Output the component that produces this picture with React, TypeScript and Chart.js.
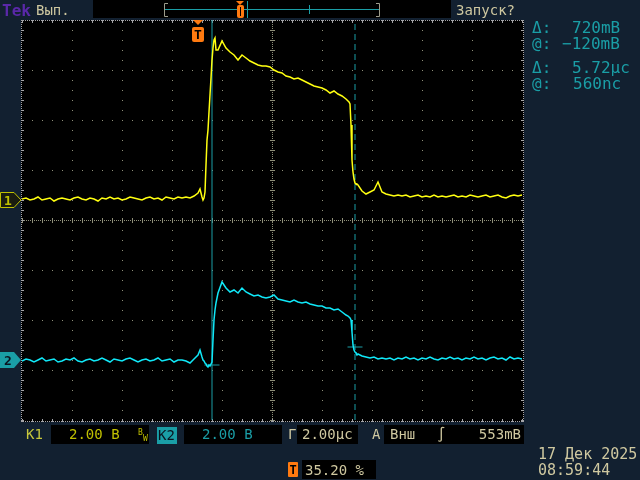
import React, { useEffect, useRef } from "react";
import { Chart, registerables } from "chart.js";

Chart.register(...registerables);

// ---- time base (µs, 0 = trigger point) ----
const timeUs = [
  -7.04, -6.88, -6.72, -6.56, -6.40, -6.24, -6.08, -5.92, -5.76, -5.60,
  -5.44, -5.28, -5.12, -4.96, -4.80, -4.64, -4.48, -4.32, -4.16, -4.00,
  -3.84, -3.68, -3.52, -3.36, -3.20, -3.04, -2.88, -2.72, -2.56, -2.40,
  -2.24, -2.08, -1.92, -1.76, -1.60, -1.44, -1.28, -1.12, -0.96, -0.80,
  -0.64, -0.48, -0.32, -0.16, 0.00,
  0.08, 0.16, 0.20, 0.24, 0.28, 0.32, 0.36, 0.40, 0.44, 0.48, 0.52, 0.56, 0.60, 0.64, 0.68, 0.72,
  0.80, 0.96, 1.12, 1.28, 1.44, 1.60, 1.76, 1.92, 2.08, 2.24,
  2.40, 2.56, 2.72, 2.88, 3.04, 3.20, 3.36, 3.52, 3.68, 3.84,
  4.00, 4.16, 4.32, 4.48, 4.64, 4.80, 4.96, 5.12, 5.28, 5.44,
  5.60, 5.76, 5.92,
  6.00, 6.04, 6.08, 6.12, 6.16, 6.20, 6.24, 6.28, 6.32, 6.36, 6.40,
  6.56, 6.72, 6.88, 7.04, 7.20, 7.36, 7.52, 7.68, 7.84, 8.00,
  8.16, 8.32, 8.48, 8.64, 8.80, 8.96, 9.12, 9.28, 9.44, 9.60,
  9.76, 9.92, 10.08, 10.24, 10.40, 10.56, 10.72, 10.88, 11.04, 11.20,
  11.36, 11.52, 11.68, 11.84, 12.00, 12.16, 12.32, 12.48, 12.64, 12.80,
  12.96,
];

// ---- channel 1 (yellow), volts ----
const ch1Volts = [
  0.04, 0.08, 0, 0.04, 0.12, 0, 0.04, 0.08, -0.04, 0.04,
  0.08, 0.04, 0, 0.08, 0.12, 0.04, 0, 0.08, 0.04, -0.04,
  0.08, 0.04, 0.12, 0.04, 0.08, 0, 0.04, 0.12, 0.08, 0.04,
  0, 0.08, 0.12, 0.04, 0.08, 0, 0.12, 0.08, 0.04, 0.12,
  0.08, 0.12, 0.08, 0.16, 0.28,
  0.44, 0.12, 0, 0.08, 0.32, 1.4, 2.4, 2.8, 3.52, 4.2, 4.88, 5.6, 6.08, 6.4, 6.48, 6.0,
  6.0, 6.36, 6.08, 5.92, 5.8, 5.6, 5.8, 5.68, 5.56, 5.48,
  5.4, 5.36, 5.36, 5.32, 5.2, 5.12, 5.08, 4.96, 4.92, 4.84,
  4.88, 4.8, 4.72, 4.64, 4.56, 4.52, 4.48, 4.4, 4.28, 4.36,
  4.24, 4.16, 4.04,
  3.96, 3.92, 3.84, 3.0, 1.6, 1.12, 0.84, 0.68, 0.64, 0.64, 0.6,
  0.36, 0.24, 0.32, 0.4, 0.72, 0.32, 0.24, 0.2, 0.16, 0.2,
  0.16, 0.2, 0.12, 0.16, 0.2, 0.12, 0.16, 0.12, 0.2, 0.12,
  0.16, 0.12, 0.16, 0.2, 0.12, 0.16, 0.12, 0.2, 0.16, 0.12,
  0.16, 0.2, 0.12, 0.16, 0.2, 0.12, 0.08, 0.16, 0.2, 0.16,
  0.2,
];

// ---- channel 2 (cyan), volts ----
const ch2Volts = [
  -0.04, 0.04, 0, -0.08, 0, 0.08, -0.04, 0, 0.04, -0.08,
  -0.04, 0.04, 0, 0.08, -0.04, -0.08, 0, 0.04, -0.04, 0,
  0.08, 0, -0.08, 0.04, 0, -0.04, 0.04, 0.08, 0, -0.08,
  0, 0.04, -0.04, 0, 0.08, -0.04, 0, 0.04, -0.08, 0,
  0, -0.04, -0.12, 0.04, 0.2,
  0.4, 0.12, 0, -0.04, -0.12, -0.16, -0.24, -0.28, -0.2, -0.24, -0.16, -0.08, 0.8, 1.6, 2.0, 2.28,
  2.68, 3.12, 2.88, 2.72, 2.8, 2.68, 2.88, 2.72, 2.64, 2.56,
  2.6, 2.52, 2.48, 2.52, 2.6, 2.44, 2.4, 2.36, 2.32, 2.4,
  2.32, 2.28, 2.32, 2.24, 2.2, 2.16, 2.16, 2.08, 2.08, 2.0,
  2.04, 1.92, 1.8,
  1.76, 1.72, 1.68, 1.6, 1.12, 0.6, 0.4, 0.32, 0.28, 0.2, 0.24,
  0.16, 0.12, 0.08, 0.12, 0.04, 0.08, 0.04, 0.08, 0, 0.08,
  0.04, 0.12, 0.04, 0.08, 0, 0.08, 0.04, 0.12, 0.04, 0,
  0.08, 0.04, 0.12, 0.04, 0.08, 0, 0.08, 0.04, 0.12, 0.04,
  0.08, 0, 0.08, 0.12, 0.04, 0.08, 0, 0.12, 0.04, 0.08,
  0.04,
];

// ---- cursors ----
const cursorTimesUs = [0.56, 6.28];
const ch2CursorLevelsV = [-0.2, 0.52];
const cursorMarkHalfUs = 0.3;

// ---- axis ranges (2 µs/div, 2 V/div) ----
const X_MIN = -7.04;
const X_MAX = 12.96;
const CH1_MIN = -8.8;
const CH1_MAX = 7.2;
const CH2_MIN = -2.4;
const CH2_MAX = 13.6;

// ---- colours ----
const BG = "#122030";
const KHAKI = "#cfc8a0";
const TEK = "#5a28a8";
const YEL_LBL = "#c8c83c";
const YEL_VAL = "#c0c000";
const TEAL = "#1a9ea6";
const ORANGE = "#ff7a10";
const TRACE1 = "#ffff10";
const TRACE2 = "#10e8f8";
const GRID = "#8e8e78";
const FRAME = "#a4a4a8";
const MONO = "'DejaVu Sans Mono', monospace";

const graticulePlugin = {
  id: "graticule",
  beforeDatasetsDraw(chart: any) {
    const { ctx, chartArea } = chart;
    const L = Math.round(chartArea.left);
    const T = Math.round(chartArea.top);
    const R = Math.round(chartArea.right);
    const B = Math.round(chartArea.bottom);
    const W = R - L;
    const H = B - T;
    const dx = W / 10;
    const dy = H / 8;
    ctx.save();
    ctx.fillStyle = "#000";
    ctx.fillRect(L - 1, T, W + 3, H + 2);
    ctx.fillStyle = GRID;
    for (let i = 1; i < 10; i++) {
      if (i === 5) continue;
      const x = Math.round(L + i * dx);
      for (let k = 0; k <= 40; k++) ctx.fillRect(x, Math.round(T + (k * dy) / 5), 1, 1);
    }
    for (let j = 1; j < 8; j++) {
      if (j === 4) continue;
      const y = Math.round(T + j * dy);
      for (let k = 0; k <= 50; k++) ctx.fillRect(Math.round(L + (k * dx) / 5), y, 1, 1);
    }
    const cx = Math.round(L + 5 * dx);
    const cy = Math.round(T + 4 * dy);
    for (let y = T; y <= B; y += 2) ctx.fillRect(cx, y, 1, 1);
    for (let x = L; x <= R; x += 2) ctx.fillRect(x, cy, 1, 1);
    for (let k = 0; k <= 40; k++) ctx.fillRect(cx - 2, Math.round(T + (k * dy) / 5), 5, 1);
    for (let k = 0; k <= 50; k++) ctx.fillRect(Math.round(L + (k * dx) / 5), cy - 2, 1, 5);
    ctx.fillStyle = FRAME;
    const fl = L - 1, fr = R + 1, ft = T, fb = B + 1;
    for (let x = fl; x <= fr; x += 2) {
      ctx.fillRect(x, ft, 1, 1);
      ctx.fillRect(x, fb, 1, 1);
    }
    for (let y = ft; y <= fb; y += 2) {
      ctx.fillRect(fl, y, 1, 1);
      ctx.fillRect(fr, y, 1, 1);
    }
    for (let k = 0; k <= 50; k++) {
      const x = Math.round(L + (k * dx) / 5);
      ctx.fillRect(x, ft, 1, 3);
      ctx.fillRect(x, fb - 2, 1, 3);
    }
    for (let k = 0; k <= 40; k++) {
      const y = Math.round(T + (k * dy) / 5);
      ctx.fillRect(fl, y, 3, 1);
      ctx.fillRect(fr - 2, y, 3, 1);
    }
    ctx.restore();
  },
};

export default function App() {
  const ref = useRef<HTMLCanvasElement>(null);

  useEffect(() => {
    if (!ref.current) return;
    const ch1 = timeUs.map((t, i) => ({ x: t, y: ch1Volts[i] }));
    const ch2 = timeUs.map((t, i) => ({ x: t, y: ch2Volts[i] }));
    const cursorLine = (t: number) => [
      { x: t, y: CH1_MIN },
      { x: t, y: CH1_MAX },
    ];
    const cursorMark = (t: number, v: number) => [
      { x: t - cursorMarkHalfUs, y: v },
      { x: t + cursorMarkHalfUs, y: v },
    ];
    const base = { pointRadius: 0, tension: 0, fill: false };
    const chart = new Chart(ref.current, {
      type: "line",
      data: {
        datasets: [
          { ...base, label: "CH1", data: ch1, yAxisID: "yCh1", borderColor: TRACE1, borderWidth: 1.5 },
          { ...base, label: "CH2", data: ch2, yAxisID: "yCh2", borderColor: TRACE2, borderWidth: 1.5 },
          { ...base, label: "a", data: cursorLine(cursorTimesUs[0]), yAxisID: "yCh1", borderColor: TEAL, borderWidth: 1 },
          {
            ...base,
            label: "b",
            data: cursorLine(cursorTimesUs[1]),
            yAxisID: "yCh1",
            borderColor: TEAL,
            borderWidth: 1,
            borderDash: [6, 4],
          },
          {
            ...base,
            label: "ma",
            data: cursorMark(cursorTimesUs[0], ch2CursorLevelsV[0]),
            yAxisID: "yCh2",
            borderColor: TEAL,
            borderWidth: 1,
          },
          {
            ...base,
            label: "mb",
            data: cursorMark(cursorTimesUs[1], ch2CursorLevelsV[1]),
            yAxisID: "yCh2",
            borderColor: TEAL,
            borderWidth: 1,
          },
        ],
      },
      options: {
        responsive: false,
        animation: false,
        events: [],
        layout: { padding: { left: 22, right: 118, top: 20, bottom: 60 } },
        plugins: { legend: { display: false }, tooltip: { enabled: false } },
        scales: {
          x: { type: "linear", min: X_MIN, max: X_MAX, display: false },
          yCh1: { type: "linear", min: CH1_MIN, max: CH1_MAX, display: false },
          yCh2: { type: "linear", min: CH2_MIN, max: CH2_MAX, display: false },
        },
      },
      plugins: [graticulePlugin],
    } as any);
    return () => chart.destroy();
  }, []);

  const t14 = { fontFamily: MONO, fontSize: 14 } as const;
  const t16 = { fontFamily: MONO, fontSize: 16 } as const;

  return (
    <div
      style={{
        position: "fixed",
        left: 0,
        top: 0,
        width: 640,
        height: 480,
        background: BG,
        overflow: "hidden",
      }}
    >
      <canvas
        ref={ref}
        width={640}
        height={480}
        style={{ position: "absolute", left: 0, top: 0, width: 640, height: 480 }}
      />
      <svg width={640} height={480} style={{ position: "absolute", left: 0, top: 0 }}>
        {/* top bar */}
        <text x={2} y={16} fill={TEK} fontFamily={MONO} fontSize={16} fontWeight="bold">
          Tek
        </text>
        <text x={36} y={15} fill={KHAKI} {...t14}>
          Вып.
        </text>
        <rect x={93} y={0} width={358} height={18} fill="#000" />
        <polyline points="168,3.5 164.5,3.5 164.5,16.5 168,16.5" stroke="#9c9c8c" fill="none" />
        <polyline points="376,3.5 379.5,3.5 379.5,16.5 376,16.5" stroke="#9c9c8c" fill="none" />
        <line x1={165} y1={9.5} x2={379} y2={9.5} stroke={TEAL} />
        <line x1={247.5} y1={1} x2={247.5} y2={18} stroke={TEAL} />
        <line x1={309.5} y1={5} x2={309.5} y2={14} stroke={TEAL} />
        <polygon points="236,1 244,1 240,5" fill={ORANGE} />
        <rect x={237} y={5} width={7} height={13} rx={2} fill={ORANGE} />
        <line x1={240.5} y1={7} x2={240.5} y2={16} stroke="#000" />
        <text x={456} y={15} fill={KHAKI} {...t14}>
          Запуск?
        </text>

        {/* trigger position marker */}
        <polygon points="193,20 203,20 198,25" fill={ORANGE} />
        <rect x={192} y={27} width={12} height={15} rx={2} fill={ORANGE} />
        <text x={198} y={39} textAnchor="middle" fill="#000" fontFamily={MONO} fontSize={13} fontWeight="bold">
          T
        </text>

        {/* channel ground markers */}
        <polygon points="0.5,192.5 14,192.5 21,200 14,207.5 0.5,207.5" fill="#1a1c10" stroke={YEL_VAL} />
        <text x={4} y={205} fill={YEL_VAL} fontFamily={MONO} fontSize={13} fontWeight="bold">
          1
        </text>
        <polygon points="0,352 14,352 21,360 14,368 0,368" fill={TEAL} />
        <text x={4} y={365} fill="#0a1420" fontFamily={MONO} fontSize={13} fontWeight="bold">
          2
        </text>

        {/* right readout */}
        <text x={532} y={33} fill={TEAL} {...t16}>Δ:</text>
        <text x={572} y={33} fill={TEAL} {...t16}>720mB</text>
        <text x={532} y={49} fill={TEAL} {...t16}>@:</text>
        <text x={562} y={49} fill={TEAL} {...t16}>−120mB</text>
        <text x={532} y={73} fill={TEAL} {...t16}>Δ:</text>
        <text x={572} y={73} fill={TEAL} {...t16}>5.72µс</text>
        <text x={532} y={89} fill={TEAL} {...t16}>@:</text>
        <text x={573} y={89} fill={TEAL} {...t16}>560nс</text>

        {/* bottom bar */}
        <text x={26} y={439} fill={YEL_LBL} {...t14}>K1</text>
        <rect x={51} y={425} width={98} height={19} fill="#000" />
        <text x={69} y={439} fill={YEL_VAL} {...t14}>2.00 B</text>
        <text x={138} y={435} fill={YEL_VAL} fontFamily={MONO} fontSize={8}>B</text>
        <text x={143} y={441} fill={YEL_VAL} fontFamily={MONO} fontSize={8}>W</text>
        <rect x={157} y={427} width={20} height={17} fill={TEAL} />
        <text x={158} y={440} fill="#0a1420" {...t14}>K2</text>
        <rect x={184} y={425} width={98} height={19} fill="#000" />
        <text x={202} y={439} fill={TEAL} {...t14}>2.00 B</text>
        <text x={288} y={439} fill={KHAKI} {...t14}>Г</text>
        <rect x={297} y={425} width={61} height={19} fill="#000" />
        <text x={302} y={439} fill={KHAKI} {...t14}>2.00µс</text>
        <text x={372} y={439} fill={KHAKI} {...t14}>A</text>
        <rect x={384} y={425} width={140} height={19} fill="#000" />
        <text x={390} y={439} fill={KHAKI} {...t14}>Внш</text>
        <text x={437} y={439} fill={KHAKI} {...t14}>∫</text>
        <text x={521} y={439} textAnchor="end" fill={KHAKI} {...t14}>553mB</text>

        <rect x={288} y={462} width={10} height={15} rx={1} fill={ORANGE} />
        <text x={293} y={474} textAnchor="middle" fill="#000" fontFamily={MONO} fontSize={12} fontWeight="bold">
          T
        </text>
        <rect x={302} y={460} width={74} height={19} fill="#000" />
        <text x={305} y={475} fill={KHAKI} {...t14}>35.20 %</text>

        <text x={538} y={459} fill={KHAKI} fontFamily={MONO} fontSize={15}>17 Дек 2025</text>
        <text x={538} y={475} fill={KHAKI} fontFamily={MONO} fontSize={15}>08:59:44</text>
      </svg>
    </div>
  );
}
